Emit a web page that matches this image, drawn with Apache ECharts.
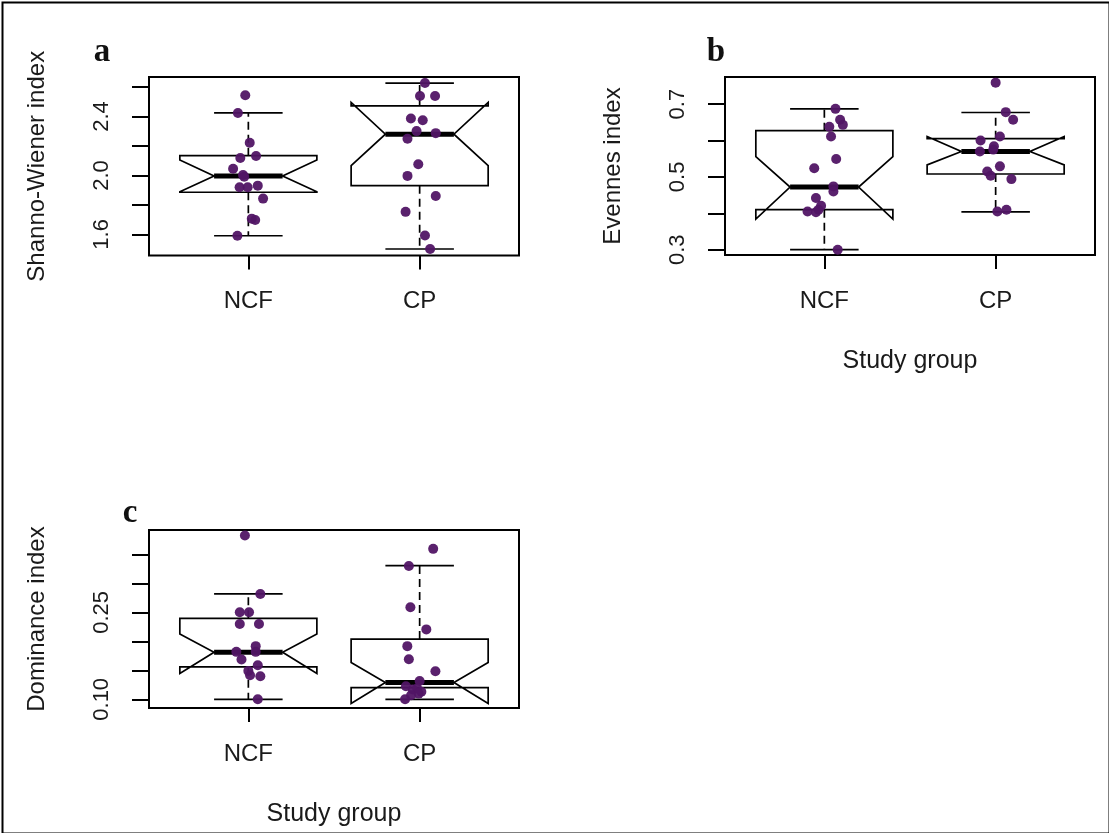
<!DOCTYPE html>
<html>
<head>
<meta charset="utf-8">
<script src="https://cdn.jsdelivr.net/npm/echarts@6/dist/echarts.min.js"></script>
<style>
  html, body { margin: 0; padding: 0; background: #fff; }
  #chart { width: 1109px; height: 833px; }
</style>
</head>
<body>
<div id="chart"></div>
<script>
// ---------------- data ----------------
const categories = ['NCF', 'CP'];

// Panel a: Shannon-Wiener index (jittered x position, value)
const shannonNCFx = [0.982, 0.939, 1.008, 1.045, 0.953, 0.911, 0.969, 0.976, 1.055, 0.949, 0.996, 1.086, 1.020, 1.040, 0.936];
const shannonNCF  = [2.544, 2.424, 2.222, 2.132, 2.118, 2.046, 2.003, 1.991, 1.931, 1.920, 1.920, 1.843, 1.707, 1.698, 1.591];
const shannonCPx  = [2.031, 2.002, 2.090, 1.949, 2.018, 1.982, 2.094, 1.929, 1.992, 1.929, 2.094, 1.918, 2.031, 2.061];
const shannonCP   = [2.627, 2.539, 2.539, 2.386, 2.375, 2.301, 2.287, 2.249, 2.076, 1.997, 1.861, 1.753, 1.593, 1.501];
// box stats: [whisker low, Q1, notch low, median, notch high, Q3, whisker high]
const shannonBoxNCF = [1.591, 1.886, 1.890, 1.997, 2.105, 2.134, 2.424];
const shannonBoxCP  = [1.501, 1.931, 2.066, 2.280, 2.495, 2.472, 2.627];
const shannonTicks = [1.6, 1.8, 2.0, 2.2, 2.4, 2.6];
const shannonTickLabels = ['1.6', '2.0', '2.4'];

// Panel b: Evenness index
const evenNCFx = [1.065, 1.092, 1.108, 1.029, 1.039, 1.069, 0.941, 1.053, 1.053, 0.951, 0.981, 0.966, 0.902, 0.951, 1.078];
const evenNCF  = [0.687, 0.657, 0.643, 0.638, 0.611, 0.549, 0.524, 0.474, 0.460, 0.442, 0.421, 0.410, 0.405, 0.403, 0.300];
const evenCPx  = [2.000, 2.059, 2.102, 2.025, 1.912, 1.990, 1.986, 1.908, 2.025, 1.951, 1.971, 2.092, 2.063, 2.010];
const evenCP   = [0.759, 0.678, 0.657, 0.611, 0.600, 0.584, 0.575, 0.570, 0.529, 0.515, 0.503, 0.494, 0.410, 0.405];
const evenBoxNCF = [0.300, 0.410, 0.384, 0.472, 0.556, 0.627, 0.687];
const evenBoxCP  = [0.404, 0.508, 0.533, 0.570, 0.611, 0.605, 0.677];
const evenTicks = [0.3, 0.4, 0.5, 0.6, 0.7];
const evenTickLabels = ['0.3', '0.5', '0.7'];

// Panel c: Dominance index
const domNCFx = [0.980, 1.070, 0.950, 1.004, 0.950, 1.062, 1.043, 0.930, 1.043, 0.960, 1.055, 1.000, 1.010, 1.070, 1.055];
const domNCF  = [0.3825, 0.2817, 0.250, 0.250, 0.2298, 0.2298, 0.1917, 0.1818, 0.1818, 0.1687, 0.1588, 0.149, 0.1415, 0.1398, 0.100];
const domCPx  = [2.079, 1.937, 1.946, 2.039, 1.928, 1.937, 2.092, 2.000, 1.920, 1.985, 1.960, 2.010, 1.994, 1.950, 1.915];
const domCP   = [0.3595, 0.330, 0.2587, 0.2206, 0.1917, 0.1692, 0.1484, 0.1316, 0.1225, 0.1185, 0.1168, 0.113, 0.1098, 0.1069, 0.100];
const domBoxNCF = [0.100, 0.156, 0.1445, 0.181, 0.2125, 0.2396, 0.2817];
const domBoxCP  = [0.100, 0.1202, 0.0926, 0.1289, 0.1635, 0.2038, 0.3306];
const domTicks = [0.10, 0.15, 0.20, 0.25, 0.30, 0.35];
const domTickLabels = ['0.10', '0.25'];

// ---------------- chart ----------------
const FONT = '"Liberation Sans", Arial, sans-serif';
const POINT_COLOR = '#511565';

function boxRenderItem(params, api) {
  const x = api.value(0);
  const wlo = api.value(1), q1 = api.value(2), nlo = api.value(3), med = api.value(4),
        nhi = api.value(5), q3 = api.value(6), whi = api.value(7);
  const hw = 0.4, nw = 0.2;
  const P = (dx, y) => api.coord([x + dx, y]);
  const pts = [P(-hw, q1), P(-hw, nlo), P(-nw, med), P(-hw, nhi), P(-hw, q3),
               P(hw, q3), P(hw, nhi), P(nw, med), P(hw, nlo), P(hw, q1)];
  const seg = (a, b, style) => ({ type: 'line', shape: { x1: a[0], y1: a[1], x2: b[0], y2: b[1] }, style: style });
  const solid = { stroke: '#000', lineWidth: 1.7 };
  const dashed = { stroke: '#000', lineWidth: 1.7, lineDash: [8, 5] };
  return {
    type: 'group',
    children: [
      seg(P(0, q3), P(0, whi), dashed),
      seg(P(0, q1), P(0, wlo), dashed),
      seg(P(-nw, whi), P(nw, whi), solid),
      seg(P(-nw, wlo), P(nw, wlo), solid),
      { type: 'polygon', shape: { points: pts }, style: { fill: '#fff', stroke: '#000', lineWidth: 1.7 } },
      seg(P(-nw, med), P(nw, med), { stroke: '#000', lineWidth: 5 })
    ]
  };
}

const grids = [
  { left: 149, top: 77, width: 370, height: 178.5 },
  { left: 725, top: 77, width: 370, height: 178 },
  { left: 149, top: 530, width: 370, height: 178 }
].map(g => Object.assign({ show: true, borderColor: '#000', borderWidth: 2, backgroundColor: 'transparent' }, g));

function xAxisFor(i, withName) {
  return {
    type: 'value', gridIndex: i, min: 0.42, max: 2.58,
    axisLine: { show: false }, splitLine: { show: false },
    axisTick: { show: true, length: 14, customValues: [1, 2], lineStyle: { color: '#000', width: 2 } },
    axisLabel: {
      customValues: [1, 2], margin: 34, fontSize: 24, color: '#1a1a1a', fontFamily: FONT,
      formatter: v => categories[Math.round(v) - 1]
    },
    name: withName ? 'Study group' : '',
    nameLocation: 'middle', nameGap: 94,
    nameTextStyle: { fontSize: 25, color: '#1a1a1a', fontFamily: FONT }
  };
}

function yAxisFor(i, min, max, ticks, labels, title) {
  return {
    type: 'value', gridIndex: i, min: min, max: max,
    axisLine: { show: false }, splitLine: { show: false },
    axisTick: { show: true, length: 17, customValues: ticks, lineStyle: { color: '#000', width: 2 } },
    axisLabel: {
      customValues: labels.map(Number), rotate: 90, margin: 36, fontSize: 22,
      color: '#1a1a1a', fontFamily: FONT,
      formatter: v => labels.find(s => Math.abs(Number(s) - v) < 1e-9) || ''
    },
    name: title, nameLocation: 'middle', nameGap: 100,
    nameTextStyle: { fontSize: 24, color: '#1a1a1a', fontFamily: FONT }
  };
}

const zip = (xs, ys) => xs.map((x, k) => [x, ys[k]]);

function panelSeries(i, boxNCF, boxCP, ncfX, ncf, cpX, cp) {
  return [
    {
      type: 'custom', xAxisIndex: i, yAxisIndex: i, renderItem: boxRenderItem,
      encode: { x: 0, y: [1, 2, 3, 4, 5, 6, 7] }, z: 2, silent: true,
      data: [[1].concat(boxNCF), [2].concat(boxCP)]
    },
    {
      type: 'scatter', xAxisIndex: i, yAxisIndex: i, symbol: 'circle', symbolSize: 10, z: 3,
      itemStyle: { color: POINT_COLOR, opacity: 0.95 },
      data: zip(ncfX, ncf).concat(zip(cpX, cp))
    }
  ];
}

const option = {
  backgroundColor: '#fff',
  animation: false,
  grid: grids,
  xAxis: [xAxisFor(0, false), xAxisFor(1, true), xAxisFor(2, true)],
  yAxis: [
    yAxisFor(0, 1.457, 2.668, shannonTicks, shannonTickLabels, 'Shanno-Wiener index'),
    yAxisFor(1, 0.2855, 0.7745, evenTicks, evenTickLabels, 'Evennes index'),
    yAxisFor(2, 0.085, 0.392, domTicks, domTickLabels, 'Dominance index')
  ],
  series: [].concat(
    panelSeries(0, shannonBoxNCF, shannonBoxCP, shannonNCFx, shannonNCF, shannonCPx, shannonCP),
    panelSeries(1, evenBoxNCF, evenBoxCP, evenNCFx, evenNCF, evenCPx, evenCP),
    panelSeries(2, domBoxNCF, domBoxCP, domNCFx, domNCF, domCPx, domCP)
  ),
  graphic: [
    { type: 'rect', left: 0, top: 0, shape: { x: 1, y: 1, width: 1107, height: 831 },
      style: { fill: 'none', stroke: '#000', lineWidth: 2 }, silent: true, z: 100 },
    { type: 'text', x: 102, y: 52, style: { text: 'a', font: 'bold 33px "Liberation Serif", "Times New Roman", serif', fill: '#111', textAlign: 'center', textVerticalAlign: 'middle' } },
    { type: 'text', x: 716, y: 52, style: { text: 'b', font: 'bold 33px "Liberation Serif", "Times New Roman", serif', fill: '#111', textAlign: 'center', textVerticalAlign: 'middle' } },
    { type: 'text', x: 130, y: 513, style: { text: 'c', font: 'bold 33px "Liberation Serif", "Times New Roman", serif', fill: '#111', textAlign: 'center', textVerticalAlign: 'middle' } }
  ]
};

const chart = echarts.init(document.getElementById('chart'), null, { renderer: 'canvas' });
chart.setOption(option);
</script>
</body>
</html>
